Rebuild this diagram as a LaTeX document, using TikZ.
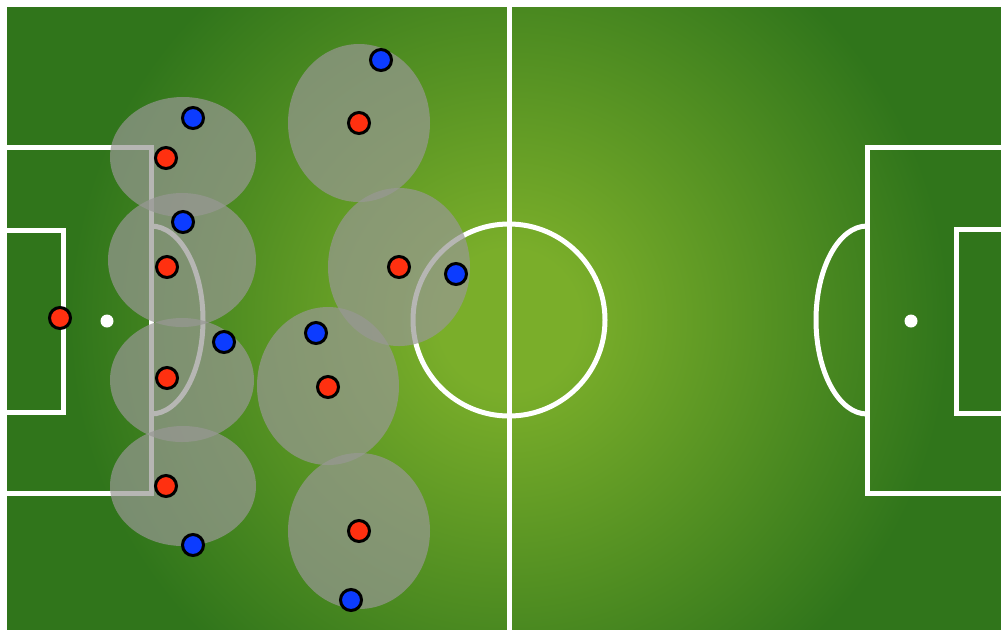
\documentclass[tikz,border=0pt]{standalone}
\definecolor{pitchdark}{RGB}{48,117,27}
\definecolor{pitchlight}{RGB}{122,174,42}
\definecolor{zonegray}{RGB}{152,152,148}
\definecolor{homered}{RGB}{255,48,16}
\definecolor{awayblue}{RGB}{12,60,255}
\pgfdeclareradialshading{pitchglow}{\pgfpoint{0bp}{0bp}}{color(0bp)=(pitchlight); color(4bp)=(pitchlight); color(25bp)=(pitchdark); color(50bp)=(pitchdark)}

\begin{document}
\begin{tikzpicture}[x=0.5pt,y=-0.5pt,
  pitchline/.style={white,line width=2.5pt},
  zone/.style={zonegray,fill opacity=0.7},
  player/.style={circle,draw=black,line width=1.5pt,inner sep=0pt,minimum size=10.5pt},
  redplayer/.style={player,fill=homered},
  blueplayer/.style={player,fill=awayblue}]
\fill[white] (0,0) rectangle (1001,629);
\useasboundingbox (0,0) rectangle (1001,629);
\begin{scope}
\clip (7,7) rectangle (1020,650);
\fill[pitchdark] (7,7) rectangle (1020,650);
\shade[shading=pitchglow] (509,320) circle (440);
% markings
\draw[pitchline] (509,0)--(509,650);
\draw[pitchline] (509,320) circle (96);
\draw[pitchline] (0,147)--(151,147)--(151,493)--(0,493);
\draw[pitchline] (0,230)--(63,230)--(63,412)--(0,412);
\draw[pitchline] (151,414) arc[start angle=90,end angle=-90,x radius=52,y radius=94];
\draw[pitchline] (1020,147)--(867,147)--(867,493)--(1020,493);
\draw[pitchline] (1020,229)--(956,229)--(956,413)--(1020,413);
\draw[pitchline] (867,414) arc[start angle=90,end angle=270,x radius=51,y radius=94];
\fill[white] (107,321) circle (6.5); \fill[white] (911,321) circle (6.5);
\end{scope}
% zones
\fill[zone] (183,157) ellipse (73 and 60);
\fill[zone] (182,260) ellipse (74 and 67);
\fill[zone] (182,380) ellipse (72 and 62);
\fill[zone] (183,486) ellipse (73 and 60);
\fill[zone] (359,123) ellipse (71 and 79);
\fill[zone] (399,267) ellipse (71 and 79);
\fill[zone] (328,386) ellipse (71 and 79);
\fill[zone] (359,531) ellipse (71 and 78);
% players
\node[redplayer] (keeper) at (60,318) {};
\node[redplayer] (r1) at (166,158) {}; \node[redplayer] (r2) at (167,267) {};
\node[redplayer] (r3) at (167,378) {}; \node[redplayer] (r4) at (166,486) {};
\node[redplayer] (r5) at (359,123) {}; \node[redplayer] (r6) at (399,267) {};
\node[redplayer] (r7) at (328,387) {}; \node[redplayer] (r8) at (359,531) {};
\node[blueplayer] (b1) at (193,118) {}; \node[blueplayer] (b2) at (183,222) {};
\node[blueplayer] (b3) at (224,342) {}; \node[blueplayer] (b4) at (193,545) {};
\node[blueplayer] (b5) at (381,60) {}; \node[blueplayer] (b6) at (456,274) {};
\node[blueplayer] (b7) at (316,333) {}; \node[blueplayer] (b8) at (351,600) {};
\end{tikzpicture}
\end{document}
